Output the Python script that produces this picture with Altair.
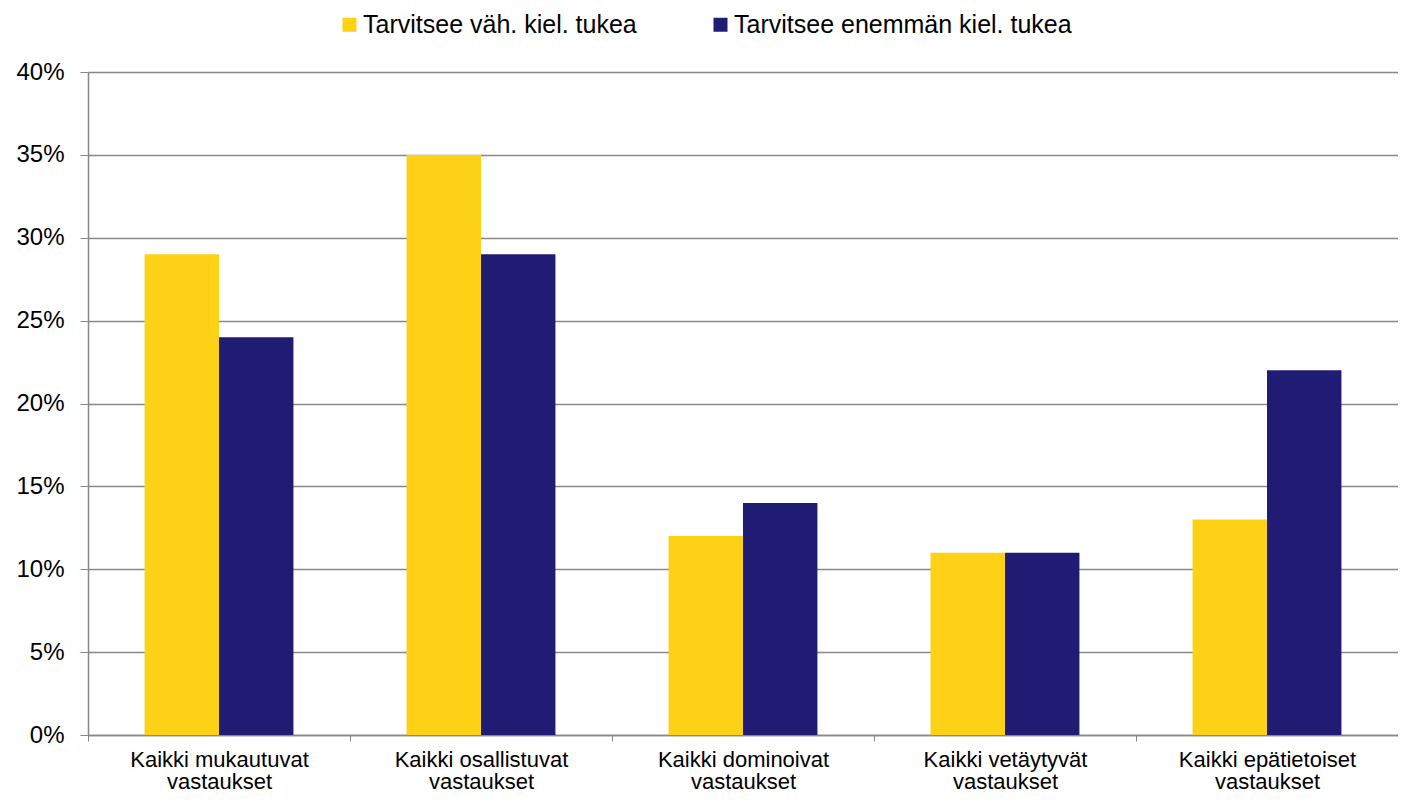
import altair as alt
import pandas as pd

categories = [
    "Kaikki mukautuvat|vastaukset",
    "Kaikki osallistuvat|vastaukset",
    "Kaikki dominoivat|vastaukset",
    "Kaikki vetäytyvät|vastaukset",
    "Kaikki epätietoiset|vastaukset",
]
series = ["Tarvitsee väh. kiel. tukea", "Tarvitsee enemmän kiel. tukea"]
less_support = [0.29, 0.35, 0.12, 0.11, 0.13]
more_support = [0.24, 0.29, 0.14, 0.11, 0.22]
colors = ["#FCD116", "#201C73"]

rows = []
for c, a, b in zip(categories, less_support, more_support):
    rows.append({"cat": c, "series": series[0], "value": a})
    rows.append({"cat": c, "series": series[1], "value": b})
df = pd.DataFrame(rows)

FONT = "Liberation Sans"

chart = (
    alt.Chart(df)
    .mark_bar()
    .encode(
        x=alt.X(
            "cat:N",
            sort=categories,
            title=None,
            scale=alt.Scale(paddingInner=0, paddingOuter=0),
            axis=alt.Axis(
                labelExpr="split(datum.label, '|')",
                labelAngle=0,
                labelFontSize=22,
                labelColor="#000000",
                labelFont=FONT,
                labelLineHeight=22.5,
                labelPadding=8,
                tickBand="extent",
                tickColor="#888888",
                tickSize=6,
                domainColor="#888888",
                domainWidth=1.5,
                grid=False,
                labelLimit=400,
            ),
        ),
        xOffset=alt.XOffset(
            "series:N",
            sort=series,
            scale=alt.Scale(paddingInner=0, paddingOuter=0.76),
        ),
        y=alt.Y(
            "value:Q",
            title=None,
            scale=alt.Scale(domain=[0, 0.4], nice=False),
            axis=alt.Axis(
                format=".0%",
                values=[0, 0.05, 0.1, 0.15, 0.2, 0.25, 0.3, 0.35, 0.4],
                labelFontSize=24,
                labelColor="#000000",
                labelFont=FONT,
                labelPadding=16,
                tickColor="#888888",
                tickSize=8,
                domainColor="#888888",
                domainWidth=1.5,
                gridColor="#888888",
                gridWidth=1.3,
            ),
        ),
        color=alt.Color(
            "series:N",
            sort=series,
            scale=alt.Scale(domain=series, range=colors),
            legend=alt.Legend(
                title=None,
                orient="none",
                direction="horizontal",
                legendX=249,
                legendY=-60,
                symbolType="square",
                symbolSize=196,
                symbolStrokeWidth=0,
                labelFontSize=25,
                labelFont=FONT,
                labelColor="#000000",
                labelOffset=1,
                columnPadding=71,
                labelLimit=500,
            ),
        ),
    )
    .properties(
        width=1310,
        height=663,
        autosize=alt.AutoSizeParams(type="none"),
        padding={"left": 80, "top": 64, "right": 0, "bottom": 60},
    )
    .configure_view(stroke=None)
    .configure(background="white")
)

chart.save("out.html", embed_options={"renderer": "svg", "actions": False})
